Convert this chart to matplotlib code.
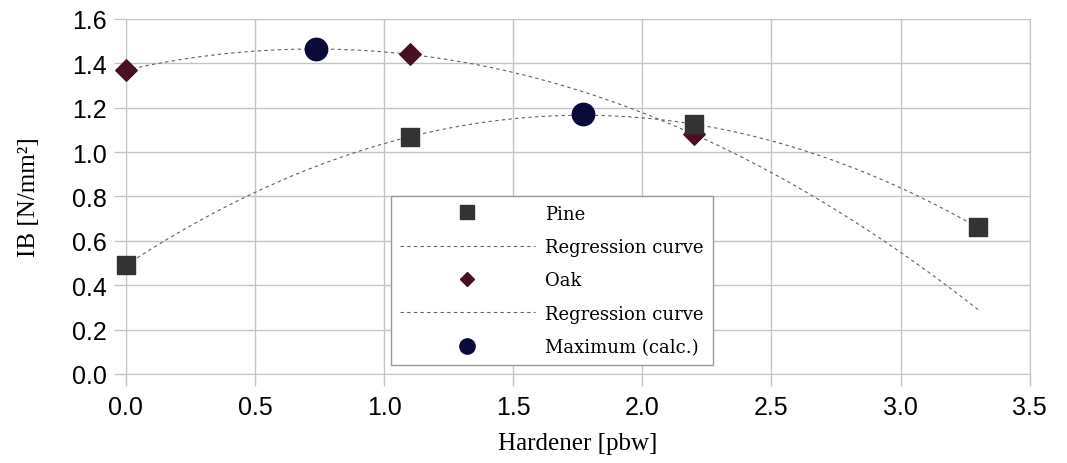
import numpy as np
import matplotlib
matplotlib.use("Agg")
import matplotlib.pyplot as plt
from matplotlib.lines import Line2D

# data
pine_x = [0.0, 1.1, 2.2, 3.3]
pine_y = [0.49, 1.07, 1.125, 0.66]
oak_x = [0.0, 1.1, 2.2]
oak_y = [1.37, 1.44, 1.08]
max_x = [0.735, 1.77]
max_y = [1.465, 1.17]

#quadratic regression curves from the measured points
xs = np.linspace(0, 3.3, 200)
pine_fit = np.polyval(np.polyfit(pine_x, pine_y, 2), xs)
oak_fit = np.polyval(np.polyfit(oak_x, oak_y, 2), xs)

grid_col = "#c4c4c4"
curve_col = "#606060"

fig = plt.figure(figsize=(10.67, 4.64), dpi=100)
ax = fig.add_axes([0.118, 0.192, 0.847, 0.765])

ax.plot(xs, pine_fit, color=curve_col, linewidth=0.8, dashes=(3, 3), zorder=2)
ax.plot(xs, oak_fit, color=curve_col, linewidth=0.8, dashes=(3, 3), zorder=2)
ax.scatter(pine_x, pine_y, marker="s", s=170, color="#333333", zorder=4, clip_on=False)
ax.scatter(oak_x, oak_y, marker="D", s=120, color="#4a0f22", zorder=3, clip_on=False)
ax.scatter(max_x, max_y, marker="o", s=260, color="#0a0a3a", zorder=5)

ax.set_xlim(0, 3.5)
ax.set_ylim(0, 1.6)
ax.set_xticks(np.arange(0, 3.51, 0.5))
ax.set_yticks(np.arange(0, 1.61, 0.2))
ax.set_xticklabels([f"{v:.1f}" for v in np.arange(0, 3.51, 0.5)])
ax.set_yticklabels([f"{v:.1f}" for v in np.arange(0, 1.61, 0.2)])
ax.grid(True, color=grid_col, linewidth=1)
ax.set_axisbelow(True)
for s in ax.spines.values():
    s.set_color(grid_col)
ax.tick_params(colors=grid_col, length=8.5, width=1, labelcolor="black",
               labelsize=18)
ax.tick_params(axis="y", pad=5.5)
ax.tick_params(axis="x", pad=7)
for lab in ax.get_xticklabels() + ax.get_yticklabels():
    lab.set_family("Liberation Sans")

ax.set_xlabel("Hardener [pbw]", family="Liberation Serif", fontsize=18, labelpad=9)
ax.set_ylabel("IB [N/mm²]", family="Liberation Serif", fontsize=18, labelpad=23)

handles = [
    Line2D([], [], linestyle="none", marker="s", markersize=10, color="#333333"),
    Line2D([], [], color=curve_col, linewidth=0.8, dashes=(3, 3)),
    Line2D([], [], linestyle="none", marker="D", markersize=7, color="#4a0f22"),
    Line2D([], [], color=curve_col, linewidth=0.8, dashes=(3, 3)),
    Line2D([], [], linestyle="none", marker="o", markersize=11, color="#0a0a3a"),
]
labels = ["Pine", "Regression curve", "Oak", "Regression curve", "Maximum (calc.)"]
leg = ax.legend(handles, labels, loc="lower left", bbox_to_anchor=(0.293, 0.025),
                borderaxespad=0,
                prop={"family": "DejaVu Serif", "size": 13}, handlelength=7.5,
                handletextpad=0.55, labelspacing=0.85, borderpad=0.5,
                fancybox=False, framealpha=1, edgecolor="#999999")
leg.get_frame().set_linewidth(1)

plt.savefig("out.png", dpi=100)
plt.close()
